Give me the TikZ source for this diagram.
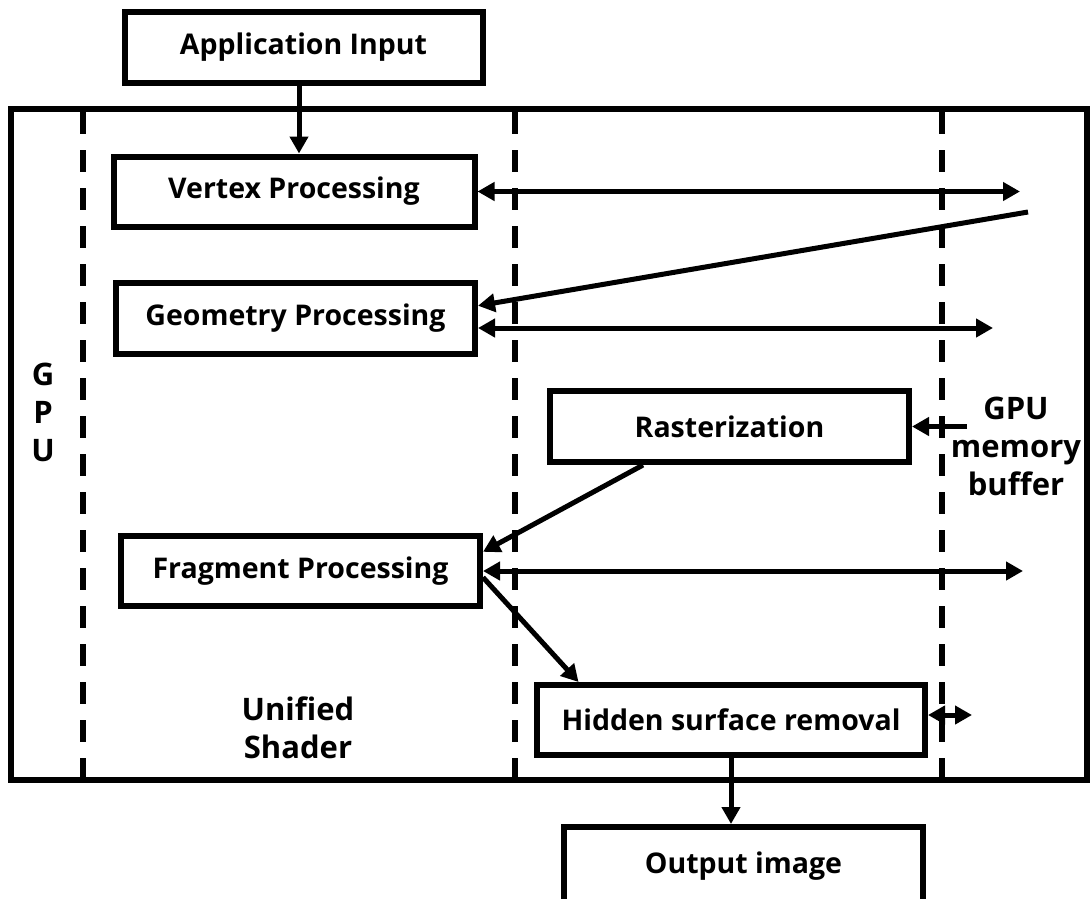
\documentclass[tikz,border=0pt]{standalone}
\usepackage{fontspec}
\setmainfont{Open Sans}
\usetikzlibrary{arrows.meta}
\tikzstyle{arrow} = [line width=5pt,-{Triangle[length=17pt,width=18pt]}]
\tikzstyle{twoway} = [line width=5pt,{Triangle[length=17pt,width=18pt]}-{Triangle[length=17pt,width=18pt]}]
\tikzstyle{stage} = [draw, line width=6pt, inner sep=0pt, minimum width=359pt, minimum height=71pt, font=\bfseries\fontsize{28.5}{34}\selectfont]
\tikzstyle{divider} = [line width=6pt, dash pattern=on 22pt off 16pt]
\tikzstyle{label} = [align=center, font=\bfseries\fontsize{31}{38}\selectfont]

\begin{document}
\begin{tikzpicture}[x=1pt, y=-1pt]
        \useasboundingbox (0,0) rectangle (1090,898);
        \clip (0,0) rectangle (1090,898);

        % GPU frame and the three dashed dividers
        \draw[line width=6pt] (11,109) rectangle (1087,780);
        \foreach \xd in {83, 514.5, 942}
            \draw[divider] (\xd,112) -- (\xd,780);

        % pipeline stages
        \node[stage, minimum width=358pt] (app) at (303.5,47) {Application Input};
        \node[stage, minimum width=361pt, minimum height=70pt] (vertex) at (294,191.5) {Vertex Processing};
        \node[stage] (geometry) at (295.5,318.5) {Geometry Processing};
        \node[stage] (raster) at (729.5,426.5) {Rasterization};
        \node[stage, minimum height=70pt] (fragment) at (300.5,571) {Fragment Processing};
        \node[stage, minimum width=388pt, minimum height=70pt] (hidden) at (731,720) {Hidden surface removal};
        \node[stage, minimum height=78pt] (output) at (743.5,866) {Output image};

        % side labels
        \node[label] (gpu) at (43,412) {G\\P\\U};
        \node[label] (shader) at (298,728) {Unified\\Shader};
        \node[label] (memory) at (1016,446) {GPU\\memory\\buffer};

        % free ends on the memory side
        \coordinate (vmem) at (1020,191.5);
        \coordinate (vin) at (1028,212);
        \coordinate (gmem) at (993,328);
        \coordinate (rmem) at (967,426.5);
        \coordinate (fmem) at (1023,571);
        \coordinate (hmem) at (972,715);

        \draw[arrow] ([xshift=-4.5pt]app.south) -- ([xshift=-4.5pt]app.south |- vertex.north);
        \draw[twoway] (vertex.east) -- (vmem);
        \draw[arrow] (vin) -- (geometry.4);
        \draw[twoway] (gmem -| geometry.east) -- (gmem);
        \draw[arrow] (rmem) -- (raster.east);
        \draw[arrow] (raster.204) -- (fragment.6);
        \draw[twoway] (fragment.east) -- (fmem);
        \draw[arrow] (fragment.-2) -- (hidden.166);
        \draw[twoway] (hmem -| hidden.east) -- (hmem);
        \draw[arrow] (hidden.south) -- (hidden.south |- output.north);
    \end{tikzpicture}
\end{document}
